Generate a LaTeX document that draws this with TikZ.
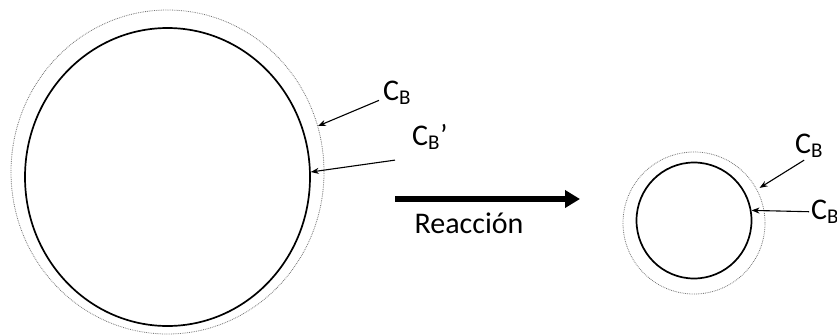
\documentclass[tikz,border=0pt]{standalone}
\usepackage{fontspec}
\setmainfont{Carlito}
\usetikzlibrary{shapes.geometric,arrows.meta}

\begin{document}
\begin{tikzpicture}[>={Stealth[length=8pt, width=6pt]}, x=1pt, y=-1pt, shell/.style={draw=black!55, densely dotted, line width=0.8pt, ellipse, inner sep=0pt}, core/.style={draw, line width=1.7pt, ellipse, inner sep=0pt}, lbl/.style={font=\fontsize{30}{32}\selectfont, inner sep=4pt}, ptr/.style={->, line width=1.1pt}]
    \useasboundingbox (0,0) rectangle (837,335);
    \node[shell, minimum width=313pt, minimum height=324pt] (outerA) at (167.5,172) {};
    \node[core, minimum width=285pt, minimum height=298pt] (innerA) at (167.5,177) {};
    \node[shell, minimum width=142pt, minimum height=142pt] (outerB) at (694,223) {};
    \node[core, minimum width=115pt, minimum height=116pt] (innerB) at (694,220.5) {};

    \node[lbl, anchor=base west] (cbA) at (379,100) {C\textsubscript{B}};
    \node[lbl, anchor=base west] (cbpA) at (408,145) {C\textsubscript{B}’};
    \node[lbl, anchor=base west, inner sep=2pt] (cbB) at (793,153) {C\textsubscript{B}};
    \node[lbl, anchor=base west, inner sep=2pt] (cbpB) at (809,219) {C\textsubscript{B}};

    \draw[ptr] (cbA) -- (outerA.17);
    \draw[ptr] ([xshift=-13pt, yshift=-6pt]cbpA.south west) -- (innerA.2);
    \draw[ptr, shorten >=3pt] ([xshift=-5pt]cbB.south) -- (outerB.28);
    \draw[ptr] (cbpB.west) -- (innerB.10);

    \coordinate (rxStart) at (395,199);
    \coordinate (rxEnd) at (580,199);
    \draw[line width=6pt, -{Triangle[length=15pt, width=17pt]}] (rxStart) -- (rxEnd);
    \node[lbl, anchor=base] (rxLabel) at (469,233) {Reacción};
\end{tikzpicture}
\end{document}
